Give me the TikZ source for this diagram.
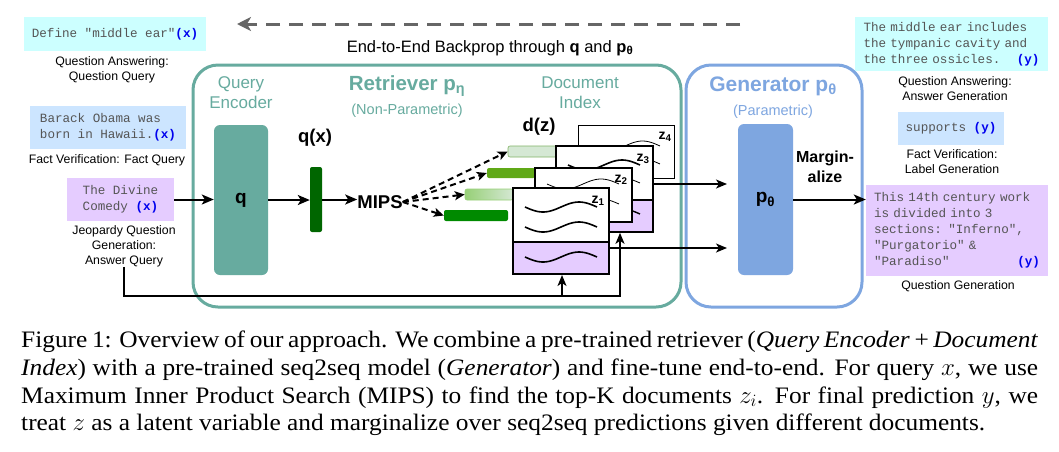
\documentclass[tikz,border=0pt]{standalone}
\usepackage{fontspec}
\setmainfont{Liberation Serif}[FakeStretch=1.075]
\newfontfamily\sansf{Liberation Sans}
\newfontfamily\monof{Liberation Mono}
\usetikzlibrary{arrows.meta,calc}
\definecolor{teal1}{HTML}{67AB9F}
\definecolor{blue1}{HTML}{7EA6E0}
\definecolor{cyanbg}{HTML}{CCFFFF}
\definecolor{bluebg}{HTML}{CCE5FF}
\definecolor{purpbg}{HTML}{E5CCFF}
\definecolor{monogray}{HTML}{555555}
\definecolor{xblue}{HTML}{0000EE}
\definecolor{gdark}{HTML}{008A00}
\definecolor{gqx}{HTML}{006600}
\definecolor{gmid}{HTML}{60A917}
\definecolor{glight}{HTML}{D5E8D4}
\definecolor{glightb}{HTML}{82B366}
\definecolor{gmidlight}{HTML}{97D077}
\definecolor{bpgray}{HTML}{666666}
\newcommand{\xv}{\textbf{\color{xblue}(x)}}
\newcommand{\yv}{\textbf{\color{xblue}(y)}}
\newcommand{\docwave}[4]{\draw[line width=#4] plot[domain=0:1,samples=40,smooth] ({#1+#3*\x},{#2+5*sin(360*\x)});}
\tikzset{
  mono/.style={font=\monof\fontsize{12.6}{16}\selectfont, text=monogray},
  iobox/.style={mono, rectangle, inner sep=0pt, align=left},
  lab/.style={font=\sansf\fontsize{12.3}{15}\selectfont, align=center, inner sep=0pt},
  tealt/.style={font=\sansf\fontsize{17}{20}\selectfont, text=teal1, align=center, inner sep=0pt},
  bold18/.style={font=\sansf\bfseries\fontsize{18.5}{22}\selectfont, inner sep=0pt},
  arr/.style={line width=2pt, -{Stealth[length=12pt,width=10pt,inset=3pt]}},
  thinarr/.style={line width=1.7pt, -{Stealth[length=11pt,width=9pt,inset=3pt]}},
  dasharr/.style={line width=2pt, dash pattern=on 6pt off 4pt, -{Stealth[length=10pt,width=9pt,inset=2.5pt]}},
  bparr/.style={line width=3pt, draw=bpgray, dash pattern=on 14pt off 9pt, -{Stealth[length=14pt,width=14pt,inset=4pt]}},
  frame/.style={rectangle, rounded corners=25pt, line width=3pt, inner sep=0pt},
  block/.style={rectangle, rounded corners=6pt, inner sep=0pt},
  bar/.style={rectangle, rounded corners=2pt, inner sep=0pt},
  docw/.style={rectangle, draw=black, fill=white, inner sep=0pt},
  docp/.style={rectangle, draw=black, fill=purpbg, inner sep=0pt},
  zlab/.style={font=\sansf\bfseries\fontsize{14}{16}\selectfont, inner sep=0pt},
  capline/.style={anchor=base west, inner sep=0pt, font=\fontsize{23.6}{27}\selectfont},
}
\begin{document}
\begin{tikzpicture}[x=1pt,y=-1pt]
\useasboundingbox (0,0) rectangle (1059,451);
\fill[white] (0,0) rectangle (1059,451);

% frames
\node[frame, draw=teal1, minimum width=488pt, minimum height=242pt] (retr) at (437,186) {};
\node[frame, draw=blue1, minimum width=176pt, minimum height=242pt] (gen) at (774,186) {};

% backprop
\coordinate (bpR) at (740,24);
\coordinate (bpL) at (237,24);
\draw[bparr] (bpR) -- (bpL);
\node[font=\sansf\fontsize{16.5}{19}\selectfont, inner sep=0pt] (bptext) at (490,48) {End-to-End Backprop through \textbf{q} and \textbf{p\textsubscript{θ}}};

% inputs
\node[iobox, fill=cyanbg, minimum width=182pt, minimum height=34pt, align=center] (qin) at (115,34) {Define "middle ear"\xv};
\node[lab] (qinlab) at (112,70) {Question Answering:\\Question Query};
\node[iobox, fill=bluebg, minimum width=156pt, minimum height=43pt] (fin) at (108,127.5) {Barack Obama was\\born in Hawaii.\xv};
\node[lab] (finlab) at (107,160) {Fact Verification: Fact Query};
\node[iobox, fill=purpbg, minimum width=107pt, minimum height=43pt] (jin) at (120.5,199.5) {The Divine\\Comedy \xv};
\node[lab] (jinlab) at (124,246) {Jeopardy Question\\Generation:\\Answer Query};

% retriever titles
\node[tealt] (qetitle) at (241,93) {Query\\Encoder};
\node[font=\sansf\bfseries\fontsize{20.5}{24}\selectfont, text=teal1, inner sep=0pt] (rtitle) at (407,86) {Retriever p\textsubscript{η}};
\node[font=\sansf\fontsize{14.5}{17}\selectfont, text=teal1, inner sep=0pt] (rsub) at (407,111) {(Non-Parametric)};
\node[tealt] (dititle) at (580,93) {Document\\Index};

% query encoder
\node[block, fill=teal1, minimum width=54pt, minimum height=150pt, font=\sansf\bfseries\fontsize{19}{22}\selectfont] (qenc) at (241,200) {q};
\node[bar, fill=gqx, minimum width=12pt, minimum height=65pt] (qx) at (316,199.5) {};
\node[bold18] (qxlab) at (315,138) {q(x)};
\node[bold18] (mips) at (380,202) {MIPS};
\node[bold18] (dz) at (539,127) {d(z)};

% bars
\node[bar, fill=glight, draw=glightb, line width=0.6pt, minimum width=49pt, minimum height=11pt] (b4) at (532.5,151.5) {};
\node[bar, fill=gmid, minimum width=48pt, minimum height=10pt] (b3) at (511,173) {};
\node[bar, left color=gmidlight, right color=glight, draw=gmidlight, line width=0.6pt, minimum width=48pt, minimum height=11pt] (b2) at (489,194.5) {};
\node[bar, fill=gdark, minimum width=64pt, minimum height=11pt] (b1) at (476,215.5) {};

% documents (back to front)
\node[docw, line width=1pt, minimum width=96pt, minimum height=53pt] (z4) at (626,151.5) {};
\docwave{590}{146}{70}{0.8pt}
\docwave{590}{164}{70}{0.8pt}
\node[zlab] (z4lab) at (665,137) {z\textsubscript{4}};
\node[docp, line width=1.6pt, minimum width=97pt, minimum height=32pt] (z3p) at (604.5,216) {};
\node[docw, line width=1.6pt, minimum width=97pt, minimum height=54pt] (z3w) at (604.5,173) {};
\docwave{568}{165}{72}{1.6pt}
\docwave{568}{183}{72}{0.8pt}
\docwave{568}{214}{72}{1.4pt}
\node[zlab] (z3lab) at (643,159) {z\textsubscript{3}};
\node[docw, line width=1.2pt, minimum width=97pt, minimum height=54pt] (z2w) at (583.5,195) {};
\docwave{547}{184}{72}{0.8pt}
\docwave{547}{204}{72}{0.8pt}
\node[zlab] (z2lab) at (621,180) {z\textsubscript{2}};
\node[docp, line width=2pt, minimum width=96pt, minimum height=32pt] (z1p) at (561,258) {};
\node[docw, line width=2pt, minimum width=96pt, minimum height=54pt] (z1w) at (561,215) {};
\docwave{525}{207}{72}{1.6pt}
\docwave{525}{227}{72}{1.6pt}
\docwave{525}{257}{72}{1.6pt}
\node[zlab] (z1lab) at (598,201) {z\textsubscript{1}};

% generator
\node[font=\sansf\bfseries\fontsize{21}{24}\selectfont, text=blue1, inner sep=0pt] (gtitle) at (773,86) {Generator p\textsubscript{θ}};
\node[font=\sansf\fontsize{14.5}{17}\selectfont, text=blue1, inner sep=0pt] (gsub) at (773,112) {(Parametric)};
\node[block, fill=blue1, minimum width=55pt, minimum height=151pt, font=\sansf\bfseries\fontsize{19}{22}\selectfont] (pgen) at (765.5,199.5) {p\textsubscript{θ}};
\node[font=\sansf\bfseries\fontsize{16}{19.5}\selectfont, align=center, inner sep=0pt] (marg) at (825,167) {Margin-\\alize};

% outputs
\node[iobox, fill=cyanbg, minimum width=193pt, minimum height=54pt, text width=176pt] (oqa) at (951.5,44) {The middle ear includes\\the tympanic cavity and\\the three ossicles.\hskip0pt plus1fill\yv};
\node[lab] (oqalab) at (955,89) {Question Answering:\\Answer Generation};
\node[iobox, fill=bluebg, minimum width=106pt, minimum height=33pt, align=center] (osup) at (951,128.5) {supports \yv};
\node[lab] (osuplab) at (952,162) {Fact Verification:\\Label Generation};
\node[iobox, fill=purpbg, minimum width=182pt, minimum height=91pt, text width=166pt] (ojq) at (957,230.5) {This 14th century work\\is divided into 3\\sections: "Inferno",\\"Purgatorio" \&\\"Paradiso"\hskip0pt plus1fill\yv};
\node[lab] (ojqlab) at (958,286) {Question Generation};

% connectors
\draw[arr] (jin.east) -- (jin.east -| qenc.west);
\draw[arr] (qenc.east) -- (qenc.east -| qx.west);
\draw[arr] (qx.east) -- (qx.east -| mips.west);
\draw[dasharr] (mips.east) -- (b4.west);
\draw[dasharr] (mips.east) -- (b3.west);
\draw[dasharr] (mips.east) -- (b2.west);
\draw[dasharr] (mips.east) -- (b1.west);
\coordinate (jc) at (620,296);
\coordinate (jb) at (562,296);
\draw[thinarr] (jinlab.south) |- (jc) -- (jc |- z3p.south);
\draw[thinarr] (jb) -- (jb |- z1p.south);
\coordinate (g1) at (727,184);
\coordinate (g2) at (727,248);
\draw[thinarr] (g1 -| z3w.east) -- (g1);
\draw[thinarr] (g2 -| z1p.east) -- (g2);
\draw[arr] (pgen.east) -- (pgen.east -| ojq.west);

% caption
\node[capline] (cap1) at (21,347) {\makebox[1017pt][s]{Figure 1: Overview of our approach. We combine a pre-trained retriever (\textit{Query Encoder} + \textit{Document}}};
\node[capline] (cap2) at (21,375) {\makebox[1017pt][s]{\textit{Index}) with a pre-trained seq2seq model (\textit{Generator}) and fine-tune end-to-end. For query $x$, we use}};
\node[capline] (cap3) at (21,403) {\makebox[1017pt][s]{Maximum Inner Product Search (MIPS) to find the top-K documents $z_i$. For final prediction $y$, we}};
\node[capline] (cap4) at (21,430) {treat $z$ as a latent variable and marginalize over seq2seq predictions given different documents.};
\end{tikzpicture}
\end{document}
